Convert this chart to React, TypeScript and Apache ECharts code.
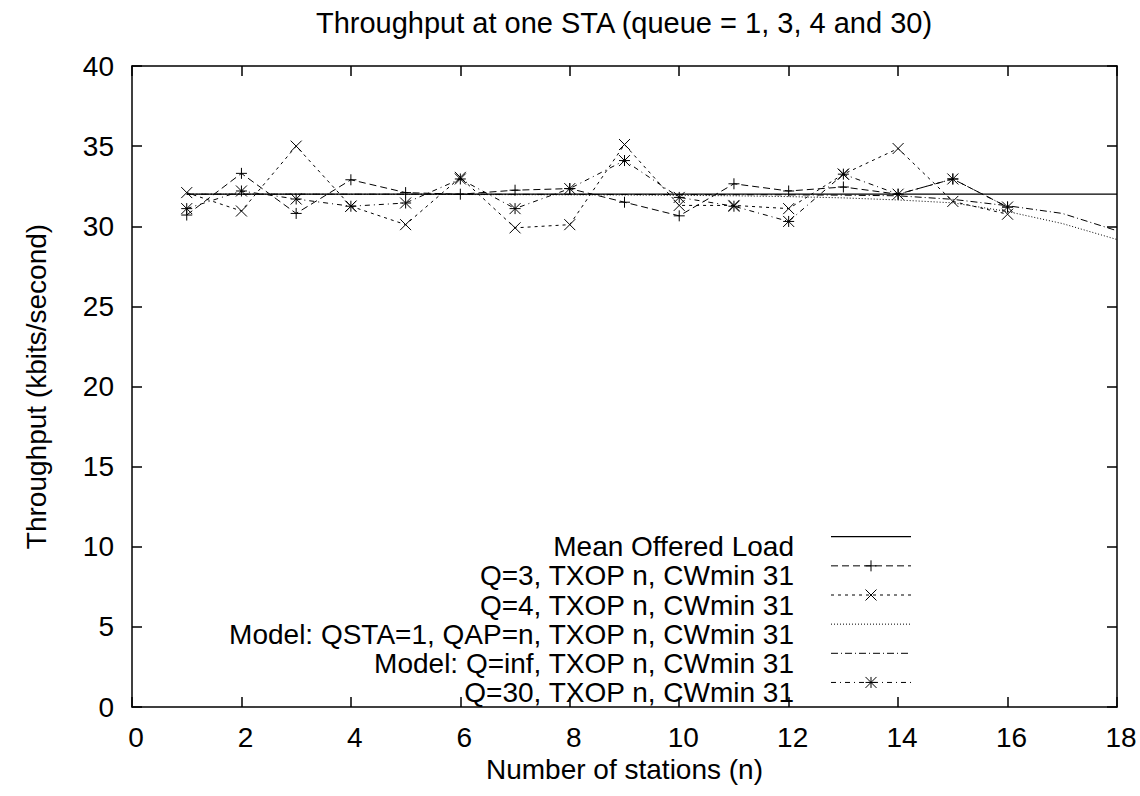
import React, { useEffect, useRef } from 'react';
import * as echarts from 'echarts';

// ---- data ----
const stations = [1, 2, 3, 4, 5, 6, 7, 8, 9, 10, 11, 12, 13, 14, 15, 16];
const modelStations = [1, 2, 3, 4, 5, 6, 7, 8, 9, 10, 11, 12, 13, 14, 15, 16, 17, 18];
const meanOfferedLoad = [32, 32, 32, 32, 32, 32, 32, 32, 32, 32, 32, 32, 32, 32, 32, 32, 32, 32];
const q3 = [30.7, 33.3, 30.8, 32.9, 32.1, 32.0, 32.25, 32.35, 31.5, 30.65, 32.65, 32.2, 32.45, 32.0, 32.95, 31.2];
const q4 = [32.1, 30.95, 35.0, 31.25, 30.1, 33.05, 29.9, 30.1, 35.1, 31.3, 31.3, 31.1, 33.25, 34.85, 31.55, 30.75];
const modelQsta1 = [32.0, 32.0, 32.0, 31.99, 31.99, 31.98, 31.97, 31.96, 31.95, 31.93, 31.9, 31.85, 31.77, 31.64, 31.46, 30.92, 30.17, 29.17];
const modelQinf = [32.0, 32.0, 32.0, 32.0, 32.0, 32.0, 31.99, 31.99, 31.98, 31.98, 31.97, 31.96, 31.94, 31.9, 31.68, 31.28, 30.8, 29.72];
const q30 = [31.1, 32.2, 31.7, 31.25, 31.45, 32.95, 31.1, 32.35, 34.1, 31.8, 31.25, 30.3, 33.25, 32.0, 32.95, 31.2];

const seriesNames = [
  'Mean Offered Load',
  'Q=3, TXOP n, CWmin 31',
  'Q=4, TXOP n, CWmin 31',
  'Model: QSTA=1, QAP=n, TXOP n, CWmin 31',
  'Model: Q=inf, TXOP n, CWmin 31',
  'Q=30, TXOP n, CWmin 31',
];

const titleText = 'Throughput at one STA (queue = 1, 3, 4 and 30)';
const xName = 'Number of stations (n)';
const yName = 'Throughput (kbits/second)';

// ---- styles ----
const FONT = '"Liberation Sans", Arial, Helvetica, sans-serif';
const FS = 28;
const dashes: (number[] | 'solid')[] = ['solid', [7, 4], [3, 4], [1, 2], [7, 3, 1, 3], [5, 4, 1, 4]];
const markers: (string | null)[] = [null, 'plus', 'cross', null, null, 'star'];
const symbolPaths: Record<string, string> = {
  plus: 'path://M5 0 L5 10 M0 5 L10 5',
  cross: 'path://M0 0 L10 10 M10 0 L0 10',
  star: 'path://M5 0 L5 10 M0 5 L10 5 M0 0 L10 10 M10 0 L0 10',
};

function pairs(xs: number[], ys: number[]) {
  return ys.map((y, i) => [xs[i], y]);
}

function markerLines(kind: string, cx: number, cy: number, h: number) {
  const segs: number[][] = [];
  if (kind === 'plus' || kind === 'star') {
    segs.push([cx - h, cy, cx + h, cy], [cx, cy - h, cx, cy + h]);
  }
  if (kind === 'cross' || kind === 'star') {
    segs.push([cx - h, cy - h, cx + h, cy + h], [cx - h, cy + h, cx + h, cy - h]);
  }
  return segs.map((s) => ({
    type: 'line',
    shape: { x1: s[0], y1: s[1], x2: s[2], y2: s[3] },
    style: { stroke: '#000', lineWidth: 1 },
    silent: true,
  }));
}

export default function App() {
  const ref = useRef<HTMLDivElement>(null);
  useEffect(() => {
    const chart = echarts.init(ref.current!, null, { renderer: 'svg' });
    const allData = [
      pairs(modelStations, meanOfferedLoad),
      pairs(stations, q3),
      pairs(stations, q4),
      pairs(modelStations, modelQsta1),
      pairs(modelStations, modelQinf),
      pairs(stations, q30),
    ];
    const series = allData.map((data, i) => {
      const m = markers[i];
      return {
        name: seriesNames[i],
        type: 'line',
        data,
        color: '#000',
        showSymbol: !!m,
        symbol: m ? symbolPaths[m] : 'none',
        symbolSize: 11,
        itemStyle: { color: '#000', borderColor: '#000', borderWidth: 1 },
        lineStyle: { color: '#000', width: i === 0 ? 1.3 : 1, type: dashes[i] },
        emphasis: { disabled: true },
        z: 2 + i,
      };
    });

    // legend drawn as graphic (gnuplot style key)
    const rowY0 = 536.7;
    const rowGap = 29.15;
    const textRight = 794;
    const lineX1 = 831;
    const lineX2 = 911;
    const graphics: any[] = [];
    seriesNames.forEach((name, i) => {
      const y = rowY0 + i * rowGap;
      graphics.push({
        type: 'text',
        x: textRight,
        y: y + 10,
        silent: true,
        style: {
          text: name,
          fontSize: FS,
          fontFamily: FONT,
          fill: '#000',
          align: 'right',
          verticalAlign: 'middle',
        },
      });
      graphics.push({
        type: 'line',
        shape: { x1: lineX1, y1: y, x2: lineX2, y2: y },
        silent: true,
        style: {
          stroke: '#000',
          lineWidth: i === 0 ? 1.3 : 1,
          lineDash: dashes[i] === 'solid' ? null : dashes[i],
        },
      });
      const m = markers[i];
      if (m) graphics.push(...markerLines(m, (lineX1 + lineX2) / 2, y, 5.5));
    });

    const axisLineStyle = { color: '#000', width: 1.5 };
    const labelStyle = { fontSize: FS, color: '#000', fontFamily: FONT };

    chart.setOption({
      animation: false,
      backgroundColor: '#fff',
      title: {
        text: titleText,
        left: 624,
        top: 8,
        padding: 0,
        textAlign: 'center',
        textStyle: { fontSize: 29, fontWeight: 'normal', color: '#000', fontFamily: FONT },
      },
      grid: { left: 132, right: 23, top: 66, bottom: 89, containLabel: false },
      xAxis: [
        {
          type: 'value',
          min: 0,
          max: 18,
          interval: 2,
          position: 'bottom',
          name: xName,
          nameLocation: 'middle',
          nameGap: 45,
          nameTextStyle: labelStyle,
          axisLine: { show: true, onZero: false, lineStyle: axisLineStyle },
          axisTick: { show: true, inside: true, length: 10, lineStyle: axisLineStyle },
          axisLabel: { ...labelStyle, margin: 16, padding: [0, 0, 0, 8] },
          splitLine: { show: false },
        },
        {
          type: 'value',
          min: 0,
          max: 18,
          interval: 2,
          position: 'top',
          axisLine: { show: true, onZero: false, lineStyle: axisLineStyle },
          axisTick: { show: true, inside: true, length: 10, lineStyle: axisLineStyle },
          axisLabel: { show: false },
          splitLine: { show: false },
        },
      ],
      yAxis: [
        {
          type: 'value',
          min: 0,
          max: 40,
          interval: 5,
          position: 'left',
          name: yName,
          nameLocation: 'middle',
          nameGap: 82,
          nameTextStyle: labelStyle,
          axisLine: { show: true, onZero: false, lineStyle: axisLineStyle },
          axisTick: { show: true, inside: true, length: 10, lineStyle: axisLineStyle },
          axisLabel: { ...labelStyle, margin: 18 },
          splitLine: { show: false },
        },
        {
          type: 'value',
          min: 0,
          max: 40,
          interval: 5,
          position: 'right',
          axisLine: { show: true, onZero: false, lineStyle: axisLineStyle },
          axisTick: { show: true, inside: true, length: 10, lineStyle: axisLineStyle },
          axisLabel: { show: false },
          splitLine: { show: false },
        },
      ],
      series,
      graphic: graphics,
    });
    return () => chart.dispose();
  }, []);
  return (
    <div
      ref={ref}
      style={{ position: 'absolute', left: 0, top: 0, width: 1140, height: 796, background: '#fff' }}
    />
  );
}
